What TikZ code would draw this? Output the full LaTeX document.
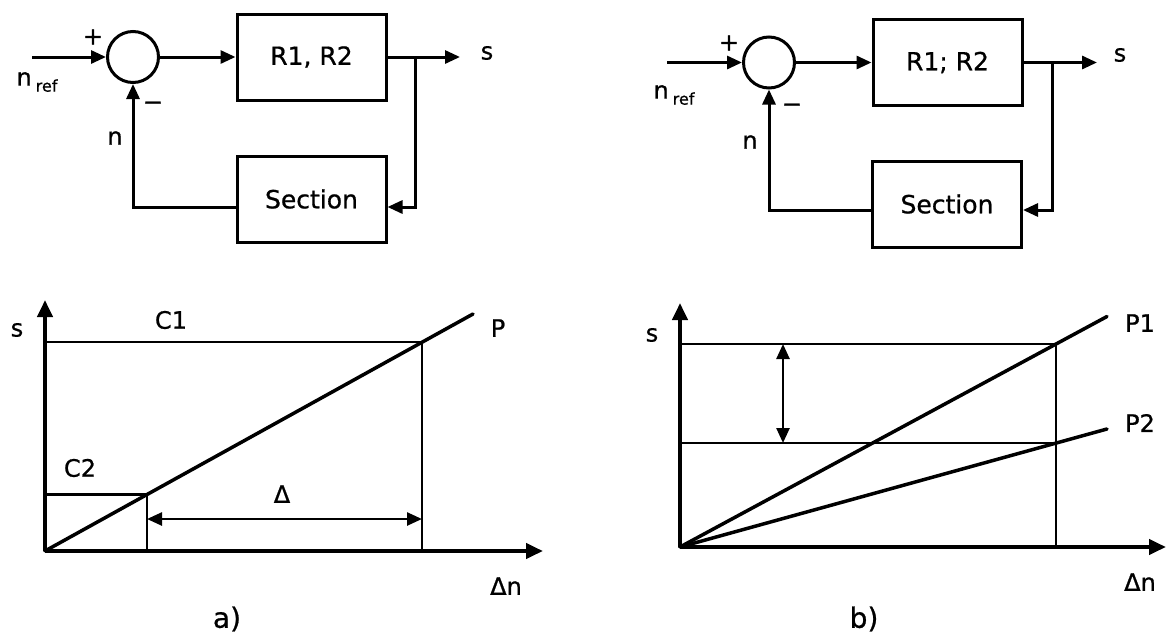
\documentclass[tikz,border=0pt]{standalone}
\usepackage{fontspec}
\setmainfont{DejaVu Sans}[FakeBold=0.8]
\usetikzlibrary{arrows.meta}
\begin{document}
\begin{tikzpicture}[x=1pt,y=-1pt,
  blk/.style={draw, line width=3pt, minimum width=149pt, minimum height=86pt, inner sep=0pt, font=\fontsize{25}{28}\selectfont},
  sumc/.style={draw, circle, line width=3pt, minimum size=51pt, inner sep=0pt},
  wire/.style={line width=3pt},
  arr/.style={wire, -{Triangle[length=15pt,width=13pt]}},
  axisln/.style={line width=4pt, -{Triangle[length=17pt,width=15pt]}},
  thinln/.style={line width=2.5pt},
  pline/.style={line width=3.5pt, line cap=round},
  dblarr/.style={line width=2.5pt, {Triangle[length=15pt,width=13pt]}-{Triangle[length=15pt,width=13pt]}},
  lbl/.style={font=\fontsize{24}{27}\selectfont, inner sep=0pt},
  captxt/.style={font=\fontsize{28}{32}\selectfont, inner sep=0pt}]
\useasboundingbox (0,0) rectangle (1168,635);

% ---------- top left block diagram ----------
\coordinate (in1) at (32,57);
\node[sumc] (sum1) at (133,57) {};
\node[blk] (R1) at (311.5,57) {R1, R2};
\node[blk] (S1) at (311.5,199) {Section};
\coordinate (br1) at (415,57);
\coordinate (out1) at (460,57);
\draw[arr] (in1) -- (sum1.west);
\draw[arr] (sum1.east) -- (R1.west);
\draw[arr] (R1.east) -- (out1);
\draw[arr] (br1) |- ([yshift=-8pt]S1.east);
\draw[arr] ([yshift=-8pt]S1.west) -| (sum1.south);
\node[lbl] (plus1) at (93,37) {+};
\node[lbl] (nref1) at (37,82) {n\,\raisebox{-6pt}{\fontsize{16}{18}\selectfont ref}};
\node[lbl] (minus1) at (153,106) {−};
\node[lbl] (n1) at (115,138) {n};
\node[lbl] (s1) at (487,53) {s};

% ---------- top right block diagram ----------
\coordinate (in2) at (667,62.5);
\node[sumc] (sum2) at (769,62.5) {};
\node[blk] (R2) at (947.5,62.5) {R1; R2};
\node[blk] (S2) at (947,204) {Section};
\coordinate (br2) at (1052,62.5);
\coordinate (out2) at (1097,62.5);
\draw[arr] (in2) -- (sum2.west);
\draw[arr] (sum2.east) -- (R2.west);
\draw[arr] (R2.east) -- (out2);
\draw[arr] (br2) |- ([yshift=-6pt]S2.east);
\draw[arr] ([yshift=-6pt]S2.west) -| (sum2.south);
\node[lbl] (plus2) at (729,43) {+};
\node[lbl] (nref2) at (674,95) {n\,\raisebox{-6pt}{\fontsize{16}{18}\selectfont ref}};
\node[lbl] (minus2) at (792,108) {−};
\node[lbl] (n2) at (750,142) {n};
\node[lbl] (s2) at (1120,55) {s};

% ---------- bottom left plot ----------
\coordinate (O1) at (45,551);
\coordinate (Y1) at (45,300);
\coordinate (X1) at (543,551);
\coordinate (A1) at (422,342);
\coordinate (A1l) at (45,342);
\coordinate (A1b) at (422,551);
\coordinate (B1) at (147,494.5);
\coordinate (B1l) at (45,494.5);
\coordinate (B1b) at (147,551);
\coordinate (P1e) at (473,314);
\coordinate (D1l) at (147,519);
\coordinate (D1r) at (422,519);
\draw[thinln] (A1l) -- (A1) -- (A1b);
\draw[thinln] (B1l) -- (B1) -- (B1b);
\draw[pline] (O1) -- (P1e);
\draw[dblarr] (D1l) -- (D1r);
\draw[axisln] (O1) -- (Y1);
\draw[axisln] (O1) -- (X1);
\node[lbl] (sl1) at (17,330) {s};
\node[lbl] (c1) at (171,320) {C1};
\node[lbl] (c2) at (80,468) {C2};
\node[lbl] (p) at (498,328) {P};
\node[lbl] (delta) at (282,494) {Δ};
\node[lbl] (dn1) at (506,586) {Δn};
\node[captxt] (capa) at (227,619) {a)};

% ---------- bottom right plot ----------
\coordinate (O2) at (680,547);
\coordinate (Y2) at (680,303);
\coordinate (X2) at (1166,547);
\coordinate (A2) at (1056,344);
\coordinate (A2l) at (680,344);
\coordinate (A2b) at (1056,547);
\coordinate (B2) at (1056,443);
\coordinate (B2l) at (680,443);
\coordinate (P1r) at (1107,316.5);
\coordinate (P2r) at (1107,429);
\coordinate (Dt) at (783,344);
\coordinate (Db) at (783,443);
\draw[thinln] (A2l) -- (A2) -- (A2b);
\draw[thinln] (B2l) -- (B2);
\draw[pline] (O2) -- (P1r);
\draw[pline] (O2) -- (P2r);
\draw[dblarr] (Dt) -- (Db);
\draw[axisln] (O2) -- (Y2);
\draw[axisln] (O2) -- (X2);
\node[lbl] (sl2) at (652,335) {s};
\node[lbl] (pp1) at (1140,323) {P1};
\node[lbl] (pp2) at (1140,423) {P2};
\node[lbl] (dn2) at (1140,582) {Δn};
\node[captxt] (capb) at (864,619) {b)};
\end{tikzpicture}
\end{document}
